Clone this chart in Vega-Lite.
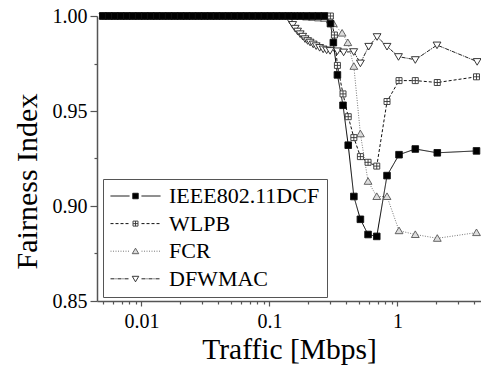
{
  "$schema": "https://vega.github.io/schema/vega-lite/v6.json",
  "width": 384,
  "height": 285,
  "autosize": {"type": "none"},
  "padding": {"left": 97, "top": 16, "right": 0, "bottom": 66},
  "background": "white",
  "config": {
    "font": "Liberation Serif, Times New Roman, Times, serif",
    "view": {"stroke": null},
    "axis": {
      "domainColor": "#555",
      "domainWidth": 1.5,
      "tickColor": "#555",
      "tickWidth": 1.2,
      "labelFont": "Liberation Serif, Times New Roman, Times, serif",
      "labelFontSize": 20,
      "labelColor": "black",
      "titleFont": "Liberation Serif, Times New Roman, Times, serif",
      "titleFontWeight": "normal",
      "titleColor": "black",
      "grid": false
    }
  },
  "data": {
    "values": [
      {"s": "DFWMAC", "x": 0.005, "y": 1}, {"s": "DFWMAC", "x": 0.00557, "y": 1}, {"s": "DFWMAC", "x": 0.0062, "y": 1}, {"s": "DFWMAC", "x": 0.0069, "y": 1}, {"s": "DFWMAC", "x": 0.00769, "y": 1}, {"s": "DFWMAC", "x": 0.00857, "y": 1}, {"s": "DFWMAC", "x": 0.00954, "y": 1}, {"s": "DFWMAC", "x": 0.01063, "y": 1}, {"s": "DFWMAC", "x": 0.01183, "y": 1}, {"s": "DFWMAC", "x": 0.01318, "y": 1}, {"s": "DFWMAC", "x": 0.01468, "y": 1}, {"s": "DFWMAC", "x": 0.01635, "y": 1}, {"s": "DFWMAC", "x": 0.01821, "y": 1}, {"s": "DFWMAC", "x": 0.02028, "y": 1}, {"s": "DFWMAC", "x": 0.02258, "y": 1}, {"s": "DFWMAC", "x": 0.02515, "y": 1}, {"s": "DFWMAC", "x": 0.02801, "y": 1}, {"s": "DFWMAC", "x": 0.0312, "y": 1}, {"s": "DFWMAC", "x": 0.03474, "y": 1}, {"s": "DFWMAC", "x": 0.03869, "y": 1}, {"s": "DFWMAC", "x": 0.0431, "y": 1}, {"s": "DFWMAC", "x": 0.048, "y": 1}, {"s": "DFWMAC", "x": 0.05345, "y": 1}, {"s": "DFWMAC", "x": 0.05953, "y": 1}, {"s": "DFWMAC", "x": 0.0663, "y": 1}, {"s": "DFWMAC", "x": 0.07384, "y": 1}, {"s": "DFWMAC", "x": 0.08224, "y": 1}, {"s": "DFWMAC", "x": 0.09159, "y": 1}, {"s": "DFWMAC", "x": 0.102, "y": 1}, {"s": "DFWMAC", "x": 0.1136, "y": 1}, {"s": "DFWMAC", "x": 0.1265, "y": 1}, {"s": "DFWMAC", "x": 0.1409, "y": 1},
      {"s": "DFWMAC", "x": 0.145, "y": 0.9977}, {"s": "DFWMAC", "x": 0.152, "y": 0.9955}, {"s": "DFWMAC", "x": 0.159, "y": 0.9935}, {"s": "DFWMAC", "x": 0.166, "y": 0.992}, {"s": "DFWMAC", "x": 0.174, "y": 0.9906}, {"s": "DFWMAC", "x": 0.182, "y": 0.9893}, {"s": "DFWMAC", "x": 0.19, "y": 0.988}, {"s": "DFWMAC", "x": 0.199, "y": 0.987}, {"s": "DFWMAC", "x": 0.208, "y": 0.9862}, {"s": "DFWMAC", "x": 0.22, "y": 0.9852}, {"s": "DFWMAC", "x": 0.232, "y": 0.9843}, {"s": "DFWMAC", "x": 0.247, "y": 0.9834}, {"s": "DFWMAC", "x": 0.263, "y": 0.9826}, {"s": "DFWMAC", "x": 0.28, "y": 0.9821}, {"s": "DFWMAC", "x": 0.298, "y": 0.9818}, {"s": "DFWMAC", "x": 0.34, "y": 0.9816}, {"s": "DFWMAC", "x": 0.38, "y": 0.981}, {"s": "DFWMAC", "x": 0.456, "y": 0.9812}, {"s": "DFWMAC", "x": 0.514, "y": 0.9752}, {"s": "DFWMAC", "x": 0.597, "y": 0.984}, {"s": "DFWMAC", "x": 0.694, "y": 0.9891}, {"s": "DFWMAC", "x": 0.83, "y": 0.984}, {"s": "DFWMAC", "x": 1.02, "y": 0.9786}, {"s": "DFWMAC", "x": 1.38, "y": 0.977}, {"s": "DFWMAC", "x": 2.04, "y": 0.9847}, {"s": "DFWMAC", "x": 4.2, "y": 0.976},

      {"s": "FCR", "x": 0.005, "y": 1}, {"s": "FCR", "x": 0.00557, "y": 1}, {"s": "FCR", "x": 0.0062, "y": 1}, {"s": "FCR", "x": 0.0069, "y": 1}, {"s": "FCR", "x": 0.00769, "y": 1}, {"s": "FCR", "x": 0.00857, "y": 1}, {"s": "FCR", "x": 0.00954, "y": 1}, {"s": "FCR", "x": 0.01063, "y": 1}, {"s": "FCR", "x": 0.01183, "y": 1}, {"s": "FCR", "x": 0.01318, "y": 1}, {"s": "FCR", "x": 0.01468, "y": 1}, {"s": "FCR", "x": 0.01635, "y": 1}, {"s": "FCR", "x": 0.01821, "y": 1}, {"s": "FCR", "x": 0.02028, "y": 1}, {"s": "FCR", "x": 0.02258, "y": 1}, {"s": "FCR", "x": 0.02515, "y": 1}, {"s": "FCR", "x": 0.02801, "y": 1}, {"s": "FCR", "x": 0.0312, "y": 1}, {"s": "FCR", "x": 0.03474, "y": 1}, {"s": "FCR", "x": 0.03869, "y": 1}, {"s": "FCR", "x": 0.0431, "y": 1}, {"s": "FCR", "x": 0.048, "y": 1}, {"s": "FCR", "x": 0.05345, "y": 1}, {"s": "FCR", "x": 0.05953, "y": 1}, {"s": "FCR", "x": 0.0663, "y": 1}, {"s": "FCR", "x": 0.07384, "y": 1}, {"s": "FCR", "x": 0.08224, "y": 1}, {"s": "FCR", "x": 0.09159, "y": 1}, {"s": "FCR", "x": 0.102, "y": 1}, {"s": "FCR", "x": 0.1136, "y": 1}, {"s": "FCR", "x": 0.1265, "y": 1}, {"s": "FCR", "x": 0.1409, "y": 1}, {"s": "FCR", "x": 0.1569, "y": 1}, {"s": "FCR", "x": 0.1748, "y": 1},
      {"s": "FCR", "x": 0.1947, "y": 0.9995}, {"s": "FCR", "x": 0.2168, "y": 0.9993}, {"s": "FCR", "x": 0.2415, "y": 0.999}, {"s": "FCR", "x": 0.2689, "y": 0.9988}, {"s": "FCR", "x": 0.2995, "y": 0.998}, {"s": "FCR", "x": 0.316, "y": 0.996}, {"s": "FCR", "x": 0.37, "y": 0.991}, {"s": "FCR", "x": 0.41, "y": 0.986}, {"s": "FCR", "x": 0.457, "y": 0.9735}, {"s": "FCR", "x": 0.514, "y": 0.938}, {"s": "FCR", "x": 0.59, "y": 0.913}, {"s": "FCR", "x": 0.69, "y": 0.905}, {"s": "FCR", "x": 0.83, "y": 0.905}, {"s": "FCR", "x": 1.03, "y": 0.887}, {"s": "FCR", "x": 1.38, "y": 0.885}, {"s": "FCR", "x": 2.05, "y": 0.883}, {"s": "FCR", "x": 4.15, "y": 0.886},

      {"s": "WLPB", "x": 0.005, "y": 1}, {"s": "WLPB", "x": 0.00557, "y": 1}, {"s": "WLPB", "x": 0.0062, "y": 1}, {"s": "WLPB", "x": 0.0069, "y": 1}, {"s": "WLPB", "x": 0.00769, "y": 1}, {"s": "WLPB", "x": 0.00857, "y": 1}, {"s": "WLPB", "x": 0.00954, "y": 1}, {"s": "WLPB", "x": 0.01063, "y": 1}, {"s": "WLPB", "x": 0.01183, "y": 1}, {"s": "WLPB", "x": 0.01318, "y": 1}, {"s": "WLPB", "x": 0.01468, "y": 1}, {"s": "WLPB", "x": 0.01635, "y": 1}, {"s": "WLPB", "x": 0.01821, "y": 1}, {"s": "WLPB", "x": 0.02028, "y": 1}, {"s": "WLPB", "x": 0.02258, "y": 1}, {"s": "WLPB", "x": 0.02515, "y": 1}, {"s": "WLPB", "x": 0.02801, "y": 1}, {"s": "WLPB", "x": 0.0312, "y": 1}, {"s": "WLPB", "x": 0.03474, "y": 1}, {"s": "WLPB", "x": 0.03869, "y": 1}, {"s": "WLPB", "x": 0.0431, "y": 1}, {"s": "WLPB", "x": 0.048, "y": 1}, {"s": "WLPB", "x": 0.05345, "y": 1}, {"s": "WLPB", "x": 0.05953, "y": 1}, {"s": "WLPB", "x": 0.0663, "y": 1}, {"s": "WLPB", "x": 0.07384, "y": 1}, {"s": "WLPB", "x": 0.08224, "y": 1}, {"s": "WLPB", "x": 0.09159, "y": 1}, {"s": "WLPB", "x": 0.102, "y": 1}, {"s": "WLPB", "x": 0.1136, "y": 1}, {"s": "WLPB", "x": 0.1265, "y": 1}, {"s": "WLPB", "x": 0.1409, "y": 1}, {"s": "WLPB", "x": 0.1569, "y": 1}, {"s": "WLPB", "x": 0.1748, "y": 1}, {"s": "WLPB", "x": 0.1947, "y": 1}, {"s": "WLPB", "x": 0.2168, "y": 1}, {"s": "WLPB", "x": 0.2415, "y": 1}, {"s": "WLPB", "x": 0.2689, "y": 1}, {"s": "WLPB", "x": 0.2995, "y": 1},
      {"s": "WLPB", "x": 0.322, "y": 0.99}, {"s": "WLPB", "x": 0.34, "y": 0.974}, {"s": "WLPB", "x": 0.376, "y": 0.959}, {"s": "WLPB", "x": 0.413, "y": 0.947}, {"s": "WLPB", "x": 0.457, "y": 0.936}, {"s": "WLPB", "x": 0.514, "y": 0.926}, {"s": "WLPB", "x": 0.59, "y": 0.923}, {"s": "WLPB", "x": 0.69, "y": 0.921}, {"s": "WLPB", "x": 0.83, "y": 0.955}, {"s": "WLPB", "x": 1.03, "y": 0.966}, {"s": "WLPB", "x": 1.38, "y": 0.966}, {"s": "WLPB", "x": 2.05, "y": 0.965}, {"s": "WLPB", "x": 4.15, "y": 0.968},

      {"s": "IEEE802.11DCF", "x": 0.005, "y": 1}, {"s": "IEEE802.11DCF", "x": 0.00557, "y": 1}, {"s": "IEEE802.11DCF", "x": 0.0062, "y": 1}, {"s": "IEEE802.11DCF", "x": 0.0069, "y": 1}, {"s": "IEEE802.11DCF", "x": 0.00769, "y": 1}, {"s": "IEEE802.11DCF", "x": 0.00857, "y": 1}, {"s": "IEEE802.11DCF", "x": 0.00954, "y": 1}, {"s": "IEEE802.11DCF", "x": 0.01063, "y": 1}, {"s": "IEEE802.11DCF", "x": 0.01183, "y": 1}, {"s": "IEEE802.11DCF", "x": 0.01318, "y": 1}, {"s": "IEEE802.11DCF", "x": 0.01468, "y": 1}, {"s": "IEEE802.11DCF", "x": 0.01635, "y": 1}, {"s": "IEEE802.11DCF", "x": 0.01821, "y": 1}, {"s": "IEEE802.11DCF", "x": 0.02028, "y": 1}, {"s": "IEEE802.11DCF", "x": 0.02258, "y": 1}, {"s": "IEEE802.11DCF", "x": 0.02515, "y": 1}, {"s": "IEEE802.11DCF", "x": 0.02801, "y": 1}, {"s": "IEEE802.11DCF", "x": 0.0312, "y": 1}, {"s": "IEEE802.11DCF", "x": 0.03474, "y": 1}, {"s": "IEEE802.11DCF", "x": 0.03869, "y": 1}, {"s": "IEEE802.11DCF", "x": 0.0431, "y": 1}, {"s": "IEEE802.11DCF", "x": 0.048, "y": 1}, {"s": "IEEE802.11DCF", "x": 0.05345, "y": 1}, {"s": "IEEE802.11DCF", "x": 0.05953, "y": 1}, {"s": "IEEE802.11DCF", "x": 0.0663, "y": 1}, {"s": "IEEE802.11DCF", "x": 0.07384, "y": 1}, {"s": "IEEE802.11DCF", "x": 0.08224, "y": 1}, {"s": "IEEE802.11DCF", "x": 0.09159, "y": 1}, {"s": "IEEE802.11DCF", "x": 0.102, "y": 1}, {"s": "IEEE802.11DCF", "x": 0.1136, "y": 1}, {"s": "IEEE802.11DCF", "x": 0.1265, "y": 1}, {"s": "IEEE802.11DCF", "x": 0.1409, "y": 1}, {"s": "IEEE802.11DCF", "x": 0.1569, "y": 1}, {"s": "IEEE802.11DCF", "x": 0.1748, "y": 1}, {"s": "IEEE802.11DCF", "x": 0.1947, "y": 1}, {"s": "IEEE802.11DCF", "x": 0.2168, "y": 1}, {"s": "IEEE802.11DCF", "x": 0.2415, "y": 1}, {"s": "IEEE802.11DCF", "x": 0.2689, "y": 1},
      {"s": "IEEE802.11DCF", "x": 0.3, "y": 0.996}, {"s": "IEEE802.11DCF", "x": 0.316, "y": 0.986}, {"s": "IEEE802.11DCF", "x": 0.34, "y": 0.969}, {"s": "IEEE802.11DCF", "x": 0.376, "y": 0.953}, {"s": "IEEE802.11DCF", "x": 0.413, "y": 0.932}, {"s": "IEEE802.11DCF", "x": 0.457, "y": 0.905}, {"s": "IEEE802.11DCF", "x": 0.514, "y": 0.893}, {"s": "IEEE802.11DCF", "x": 0.59, "y": 0.885}, {"s": "IEEE802.11DCF", "x": 0.69, "y": 0.884}, {"s": "IEEE802.11DCF", "x": 0.83, "y": 0.916}, {"s": "IEEE802.11DCF", "x": 1.03, "y": 0.927}, {"s": "IEEE802.11DCF", "x": 1.38, "y": 0.93}, {"s": "IEEE802.11DCF", "x": 2.05, "y": 0.928}, {"s": "IEEE802.11DCF", "x": 4.15, "y": 0.929}
    ]
  },
  "encoding": {
    "x": {
      "field": "x", "type": "quantitative",
      "scale": {"type": "log", "domain": [0.0045, 4.5], "nice": false},
      "axis": {
        "title": "Traffic [Mbps]",
        "titleFontSize": 29.5,
        "titlePadding": 4,
        "values": [0.005, 0.006, 0.007, 0.008, 0.009, 0.01, 0.02, 0.03, 0.04, 0.05, 0.06, 0.07, 0.08, 0.09, 0.1, 0.2, 0.3, 0.4, 0.5, 0.6, 0.7, 0.8, 0.9, 1, 2, 3, 4],
        "labelExpr": "datum.value == 0.01 ? '0.01' : datum.value == 0.1 ? '0.1' : datum.value == 1 ? '1' : ''",
        "labelOverlap": false,
        "labelFlush": false,
        "labelPadding": 5,
        "tickSize": {"condition": {"test": "datum.value == 0.01 || datum.value == 0.1 || datum.value == 1", "value": 5}, "value": 3}
      }
    },
    "y": {
      "field": "y", "type": "quantitative",
      "scale": {"domain": [0.85, 1.0], "nice": false, "zero": false},
      "axis": {
        "title": "Fairness Index",
        "titleFontSize": 30,
        "titlePadding": 10,
        "titleY": 165,
        "values": [0.85, 0.875, 0.9, 0.925, 0.95, 0.975, 1.0],
        "labelExpr": "round(datum.value * 1000) % 50 == 0 ? format(datum.value, '.2f') : ''",
        "labelOverlap": false,
        "labelFlush": false,
        "labelPadding": 3,
        "tickSize": {"condition": {"test": "round(datum.value * 1000) % 50 == 0", "value": 7}, "value": 3}
      }
    }
  },
  "layer": [
    {
      "mark": {"type": "line", "strokeWidth": 1},
      "encoding": {
        "strokeDash": {
          "field": "s", "type": "nominal",
          "scale": {"domain": ["IEEE802.11DCF", "WLPB", "FCR", "DFWMAC", "-"], "range": [[1, 0], [3, 2], [1, 1.5], [4, 1, 1, 1], [1, 0]]},
          "legend": {
            "title": null, "orient": "none", "legendX": 6, "legendY": 163,
            "values": ["IEEE802.11DCF", "WLPB", "FCR", "DFWMAC"],
            "padding": 7, "rowPadding": 5.6, "clipHeight": 20,
            "symbolType": "M-1,0H-0.24M0.24,0H1", "symbolSize": 2500, "symbolStrokeWidth": 1,
            "labelOffset": 8, "labelFont": "Liberation Serif, Times New Roman, Times, serif", "labelFontSize": 22, "labelColor": "black", "labelLimit": 400,
            "strokeColor": "#555",
            "encode": {"legend": {"strokeWidth": {"value": 1.5}}}
          }
        },
        "color": {
          "field": "s", "type": "nominal",
          "scale": {"domain": ["IEEE802.11DCF", "WLPB", "FCR", "DFWMAC", "-"], "range": ["#000000", "#111111", "#777777", "#222222", "#000000"]}
        }
      }
    },
    {
      "mark": {"type": "point", "filled": true, "size": 3600, "strokeWidth": 0.9, "opacity": 1},
      "encoding": {
        "shape": {
          "field": "s", "type": "nominal",
          "scale": {"domain": ["IEEE802.11DCF", "WLPB", "FCR", "DFWMAC"], "range": ["M-0.11,-0.11H0.11V0.11H-0.11Z", "M-0.1,-0.1H0.1V0.1H-0.1ZM0,-0.1V0.1M-0.1,0H0.1", "M0,-0.12L0.13,0.1L-0.13,0.1Z", "M0,0.12L0.13,-0.1L-0.13,-0.1Z"]},
          "legend": {
            "title": null, "orient": "none", "legendX": 6, "legendY": 163,
            "padding": 7, "rowPadding": 5.6, "clipHeight": 20,
            "symbolSize": 2500, "symbolStrokeWidth": 0.9, "symbolOpacity": 1,
            "labelOffset": 8, "labelFont": "Liberation Serif, Times New Roman, Times, serif", "labelFontSize": 22, "labelOpacity": 0, "labelLimit": 400
          }
        },
        "fill": {
          "field": "s", "type": "nominal",
          "scale": {"domain": ["IEEE802.11DCF", "WLPB", "FCR", "DFWMAC"], "range": ["#000000", "#ffffff", "#dddddd", "#ffffff"]}
        },
        "stroke": {
          "field": "s", "type": "nominal",
          "scale": {"domain": ["IEEE802.11DCF", "WLPB", "FCR", "DFWMAC"], "range": ["#111111", "#333333", "#555555", "#222222"]}
        }
      }
    }
  ]
}
